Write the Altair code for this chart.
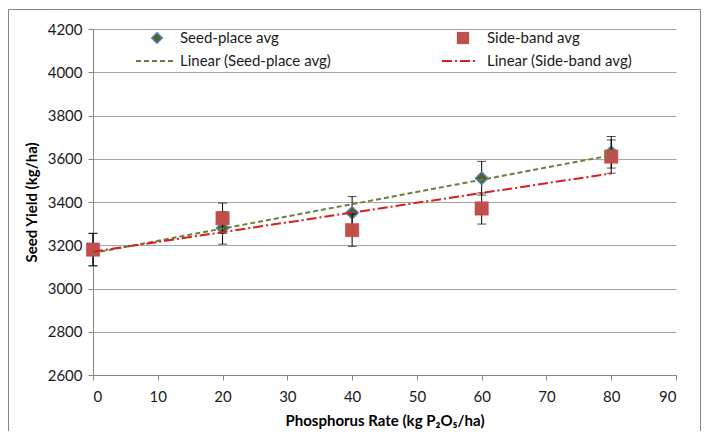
import altair as alt
import pandas as pd

# ---- data ----
rates = [0, 20, 40, 60, 80]
seed_avg = [3180, 3280, 3350, 3510, 3630]
seed_err = [75, 75, 75, 78, 73]
side_avg = [3180, 3325, 3270, 3370, 3610]
side_err = [75, 70, 75, 72, 77]

x_ticks = [0, 10, 20, 30, 40, 50, 60, 70, 80, 90]
y_ticks = [2600, 2800, 3000, 3200, 3400, 3600, 3800, 4000, 4200]

FONT = "Lato"
TXT = "#1A1A1A"

seed = pd.DataFrame({
    "rate": rates, "yield": seed_avg,
    "lo": [v - e for v, e in zip(seed_avg, seed_err)],
    "hi": [v + e for v, e in zip(seed_avg, seed_err)],
})
side = pd.DataFrame({
    "rate": rates, "yield": side_avg,
    "lo": [v - e for v, e in zip(side_avg, side_err)],
    "hi": [v + e for v, e in zip(side_avg, side_err)],
})

xs = alt.Scale(domain=[0, 90], nice=False)
ys = alt.Scale(domain=[2600, 4200], nice=False)

X = alt.X("rate:Q", scale=xs, axis=alt.Axis(
    values=x_ticks, title="Phosphorus Rate (kg P\u2082O\u2085/ha)", grid=False,
    domainColor="#868686", tickColor="#868686", tickSize=5, labelPadding=9,
    labelFont=FONT, labelFontSize=15, labelColor=TXT,
    titleFont=FONT, titleFontSize=15, titleFontWeight="bold", titleColor="#000000",
    titlePadding=9))
Y = alt.Y("yield:Q", scale=ys, axis=alt.Axis(
    values=y_ticks, format="d", title="Seed Yield (kg/ha)", grid=True,
    gridColor="#A6A6A6", domainColor="#868686", tickColor="#868686", tickSize=5,
    labelPadding=6, labelFont=FONT, labelFontSize=15, labelColor=TXT,
    titleFont=FONT, titleFontSize=15, titleFontWeight="bold", titleColor="#000000",
    titlePadding=8))

def errbars(df):
    base = alt.Chart(df)
    rule = base.mark_rule(color="#000000", strokeWidth=1).encode(
        x=alt.X("rate:Q", scale=xs), y=alt.Y("lo:Q", scale=ys), y2="hi:Q")
    cap_lo = base.mark_tick(color="#000000", thickness=1, size=9, orient="horizontal").encode(
        x=alt.X("rate:Q", scale=xs), y=alt.Y("lo:Q", scale=ys))
    cap_hi = base.mark_tick(color="#000000", thickness=1, size=9, orient="horizontal").encode(
        x=alt.X("rate:Q", scale=xs), y=alt.Y("hi:Q", scale=ys))
    return rule + cap_lo + cap_hi

one = pd.DataFrame({"k": [0]})

# chart-area border (Excel style)
border = alt.Chart(one).mark_rect(fillOpacity=0, stroke="#868686", strokeWidth=1).encode(
    x=alt.value(-84.5), x2=alt.value(607.5), y=alt.value(-19.5), y2=alt.value(440))

axes_layer = alt.Chart(seed).mark_point(opacity=0).encode(x=X, y=Y)

seed_pts = alt.Chart(seed).mark_point(
    shape="diamond", filled=True, fill="#4F6228", stroke="#4F81BD",
    strokeWidth=1.5, size=150, opacity=1).encode(
    x=alt.X("rate:Q", scale=xs), y=alt.Y("yield:Q", scale=ys))
side_pts = alt.Chart(side).mark_point(
    shape="square", filled=True, fill="#C0504D", stroke="#C0504D",
    strokeWidth=0.5, size=180, opacity=1).encode(
    x=alt.X("rate:Q", scale=xs), y=alt.Y("yield:Q", scale=ys))

seed_trend = alt.Chart(seed).transform_regression("rate", "yield").mark_line(
    color="#6E7F3A", strokeWidth=2, strokeDash=[5, 3]).encode(
    x=alt.X("rate:Q", scale=xs), y=alt.Y("yield:Q", scale=ys))
side_trend = alt.Chart(side).transform_regression("rate", "yield").mark_line(
    color="#D91E1E", strokeWidth=2, strokeDash=[10, 3, 2, 3]).encode(
    x=alt.X("rate:Q", scale=xs), y=alt.Y("yield:Q", scale=ys))

# ---- legend (inside the top of the plot) ----
leg_labels = ["Seed-place avg", "Side-band avg",
              "Linear (Seed-place avg)", "Linear (Side-band avg)"]

def legtext(label, x, y):
    return alt.Chart(one).mark_text(
        text=label, align="left", baseline="middle", font=FONT, fontSize=15,
        color=TXT).encode(x=alt.value(x), y=alt.value(y))

leg = (
    alt.Chart(one).mark_point(shape="diamond", filled=True, fill="#4F6228",
        stroke="#4F81BD", strokeWidth=1.5, size=110, opacity=1).encode(
        x=alt.value(64), y=alt.value(9))
    + legtext(leg_labels[0], 87, 9)
    + alt.Chart(one).mark_point(shape="square", filled=True, fill="#C0504D",
        size=150, opacity=1).encode(x=alt.value(370), y=alt.value(9))
    + legtext(leg_labels[1], 394, 9)
    + alt.Chart(one).mark_rule(color="#6E7F3A", strokeWidth=2, strokeDash=[5, 3]).encode(
        x=alt.value(43), x2=alt.value(81), y=alt.value(32))
    + legtext(leg_labels[2], 87, 32)
    + alt.Chart(one).mark_rule(color="#D91E1E", strokeWidth=2, strokeDash=[10, 3, 2, 3]).encode(
        x=alt.value(349), x2=alt.value(385), y=alt.value(32))
    + legtext(leg_labels[3], 394, 32)
)

chart = alt.layer(
    border, axes_layer, errbars(seed), seed_pts, errbars(side), side_pts,
    seed_trend, side_trend, leg
).properties(
    width=583, height=346,
    padding={"left": 85, "top": 21, "right": 25, "bottom": 56},
    autosize=alt.AutoSizeParams(type="none"),
    background="#FFFFFF",
).configure_view(stroke=None)

chart.save("out.html", embed_options={"renderer": "svg", "actions": False})
